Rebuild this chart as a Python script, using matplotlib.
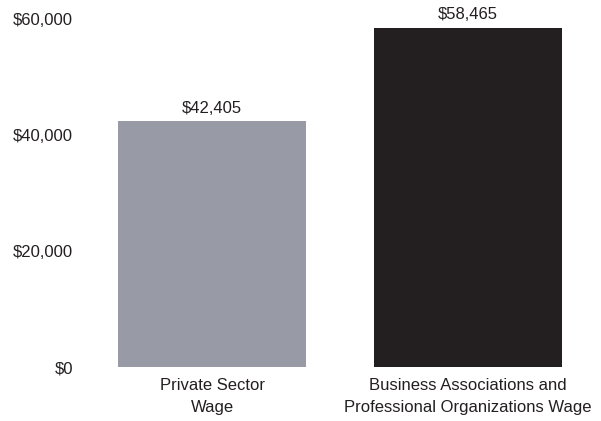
import matplotlib.pyplot as plt
from matplotlib.ticker import FuncFormatter

categories = ["Private Sector\nWage", "Business Associations and\nProfessional Organizations Wage"]
wages = [42405, 58465]
bar_colors = ["#989ba6", "#231f20"]
y_ticks = [0, 20000, 40000, 60000]

plt.rcParams['font.family'] = ['Liberation Sans Narrow', 'Liberation Sans', 'DejaVu Sans']

fig = plt.figure(figsize=(6.01, 4.21), dpi=100)
ax = fig.add_axes([0.14, 0.128, 0.852, 0.826])

x = range(len(categories))
bars = ax.bar(x, wages, width=0.734, color=bar_colors)

for b, v in zip(bars, wages):
    ax.text(b.get_x() + b.get_width() / 2, v + 1000, f"${v:,}",
            ha='center', va='bottom', fontsize=12, color='#231f20')

ax.set_xlim(-0.5, 1.5)
ax.set_ylim(0, 60000)
ax.set_yticks(y_ticks)
ax.yaxis.set_major_formatter(FuncFormatter(lambda v, p: f"${int(v):,}"))
ax.set_xticks(list(x))
ax.set_xticklabels(categories, linespacing=1.6)
ax.tick_params(axis='both', length=0, labelsize=12, labelcolor='#231f20')
ax.tick_params(axis='y', pad=8)
ax.tick_params(axis='x', pad=8)

for s in ax.spines.values():
    s.set_visible(False)

fig.savefig("out.png", dpi=100)
